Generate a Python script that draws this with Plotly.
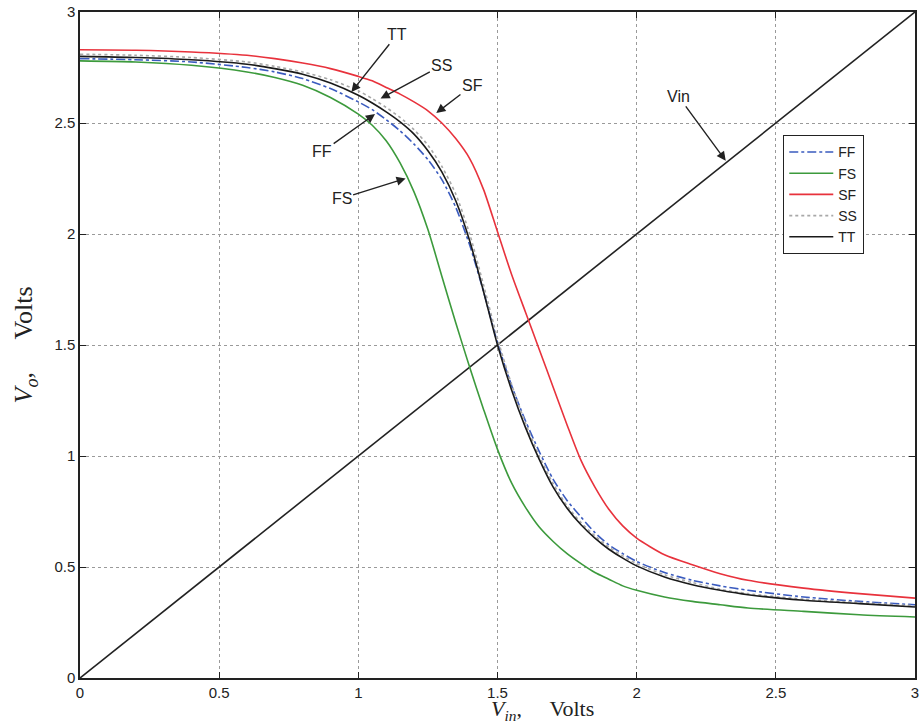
import plotly.graph_objects as go

vin = [0, 0.2, 0.4, 0.6, 0.7, 0.8, 0.9,
       1.0, 1.05, 1.1, 1.15, 1.2, 1.25, 1.3, 1.35, 1.4, 1.45, 1.5, 1.55, 1.6, 1.65,
       1.7, 1.75, 1.8, 1.85, 1.9, 1.95, 2.0,
       2.1, 2.2, 2.3, 2.4, 2.6, 2.8, 3.0]

ff = [2.79, 2.785, 2.775, 2.75, 2.73, 2.70, 2.655,
      2.595, 2.56, 2.515, 2.465, 2.405, 2.335, 2.245, 2.12, 1.95, 1.74, 1.51, 1.32, 1.16, 1.02,
      0.895, 0.80, 0.725, 0.655, 0.60, 0.56, 0.525,
      0.475, 0.44, 0.415, 0.395, 0.365, 0.345, 0.33]
fs = [2.78, 2.775, 2.76, 2.73, 2.705, 2.67, 2.615,
      2.54, 2.49, 2.42, 2.32, 2.19, 2.02, 1.81, 1.60, 1.40, 1.21, 1.03, 0.88, 0.77, 0.68,
      0.615, 0.56, 0.515, 0.475, 0.445, 0.415, 0.395,
      0.365, 0.345, 0.33, 0.315, 0.30, 0.285, 0.275]
sf = [2.83, 2.828, 2.82, 2.805, 2.79, 2.77, 2.745,
      2.71, 2.69, 2.66, 2.63, 2.595, 2.555, 2.50, 2.43, 2.34, 2.20, 2.01, 1.82, 1.65, 1.48,
      1.31, 1.14, 0.98, 0.86, 0.76, 0.685, 0.63,
      0.555, 0.51, 0.47, 0.44, 0.405, 0.38, 0.36]
ss = [2.81, 2.805, 2.795, 2.775, 2.755, 2.73, 2.695,
      2.645, 2.61, 2.57, 2.525, 2.47, 2.40, 2.305, 2.18, 2.00, 1.77, 1.53, 1.325, 1.15, 1.0,
      0.875, 0.775, 0.70, 0.64, 0.59, 0.55, 0.515,
      0.465, 0.43, 0.40, 0.38, 0.355, 0.34, 0.325]
tt = [2.80, 2.795, 2.785, 2.765, 2.745, 2.72, 2.68,
      2.625, 2.59, 2.55, 2.505, 2.45, 2.375, 2.28, 2.15, 1.97, 1.74, 1.50, 1.30, 1.13, 0.985,
      0.86, 0.765, 0.69, 0.63, 0.58, 0.54, 0.505,
      0.455, 0.42, 0.395, 0.375, 0.35, 0.335, 0.32]

diag_x = [0, 3]
diag_y = [0, 3]

tick_vals = [0, 0.5, 1, 1.5, 2, 2.5, 3]
tick_text = ["0", "0.5", "1", "1.5", "2", "2.5", "3"]

# annotation labels: (text, head_x, head_y, text_x, text_y)
labels = [
    ("TT", 0.975, 2.64, 1.14, 2.90),
    ("SS", 1.08, 2.61, 1.30, 2.76),
    ("SF", 1.28, 2.545, 1.41, 2.67),
    ("FF", 1.06, 2.54, 0.87, 2.37),
    ("FS", 1.17, 2.25, 0.94, 2.16),
    ("Vin", 2.32, 2.33, 2.15, 2.62),
]

gap = "\u00a0" * 5
x_title = "<i>V</i><sub><i>in</i></sub>," + gap + "Volts"
y_title = "<i>V</i><sub><i>o</i></sub>," + gap + "Volts"

fig = go.Figure()
fig.add_trace(go.Scatter(x=diag_x, y=diag_y, mode="lines", showlegend=False,
                         line=dict(color="#222222", width=1.6)))
series = [
    ("FF", ff, dict(color="#3a5bbf", width=1.6, dash="dashdot")),
    ("FS", fs, dict(color="#3c9a3c", width=1.6)),
    ("SF", sf, dict(color="#e8323c", width=1.6)),
    ("SS", ss, dict(color="#a8a8a8", width=1.6, dash="dot")),
    ("TT", tt, dict(color="#1a1a1a", width=1.6)),
]
for name, ys, ln in series:
    ln = dict(ln, shape="spline", smoothing=0.7)
    fig.add_trace(go.Scatter(x=vin, y=ys, mode="lines", name=name, line=ln))

for text, hx, hy, tx, ty in labels:
    fig.add_annotation(x=hx, y=hy, ax=tx, ay=ty, xref="x", yref="y", axref="x", ayref="y",
                       text=text, showarrow=True, arrowhead=2, arrowsize=1.3, arrowwidth=1.4,
                       arrowcolor="#222222", standoff=0,
                       font=dict(family="Liberation Sans, Arial", size=16, color="#222222"))

# x-axis title as a paper annotation so it can sit low in the margin
fig.add_annotation(x=0.554, y=-0.072, xref="paper", yref="paper", xanchor="center",
                   yanchor="bottom", showarrow=False, text=x_title,
                   font=dict(family="Liberation Serif, DejaVu Serif", size=22, color="#222222"))

axis_common = dict(range=[0, 3], tickvals=tick_vals, ticktext=tick_text, ticks="inside",
                   ticklen=6, tickcolor="#222222", showline=True, linecolor="#222222",
                   linewidth=1.5, mirror="ticks", showgrid=True, gridcolor="#9a9a9a",
                   griddash="dot", gridwidth=1, zeroline=False,
                   tickfont=dict(family="Liberation Sans, Arial", size=15, color="#222222"))

fig.update_layout(
    width=923, height=726,
    margin=dict(l=80, r=8, t=12, b=48),
    paper_bgcolor="white", plot_bgcolor="white",
    xaxis=dict(axis_common, automargin=False),
    yaxis=dict(axis_common, automargin=False,
               title=dict(text=y_title, standoff=14,
                          font=dict(family="Liberation Serif, DejaVu Serif", size=26, color="#222222"))),
    legend=dict(x=0.842, y=0.815, xanchor="left", yanchor="top", bgcolor="white",
                bordercolor="#222222", borderwidth=1.2, tracegroupgap=0, itemwidth=44,
                font=dict(family="Liberation Sans, Arial", size=14, color="#222222")),
)

fig.write_html("out.html")
